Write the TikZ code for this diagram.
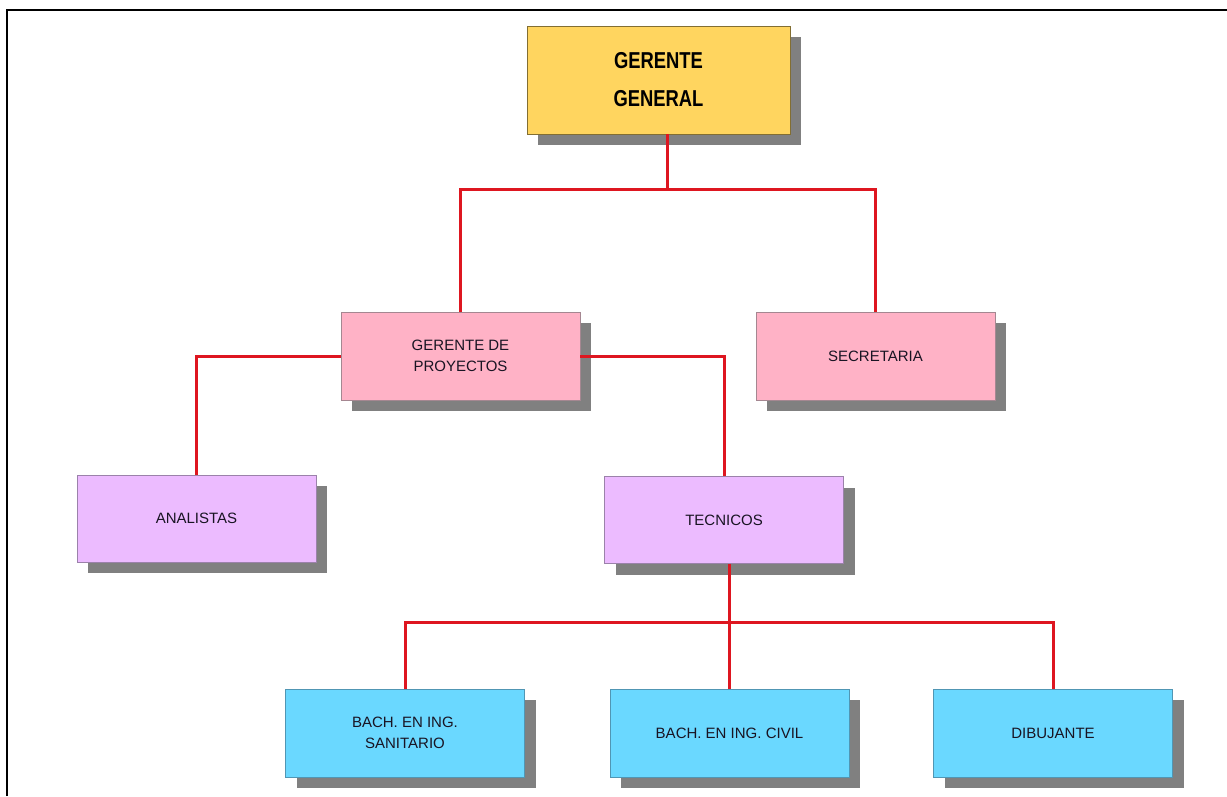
\documentclass[tikz,border=0pt]{standalone}
\usepackage{fontspec}
\setmainfont{Liberation Sans}
\newfontfamily\ggfont{Liberation Sans}[FakeStretch=0.8]
\usetikzlibrary{shadows,calc}
\definecolor{ggyellow}{RGB}{255,213,95}
\definecolor{ggborder}{RGB}{130,110,50}
\definecolor{pinkfill}{RGB}{255,178,198}
\definecolor{pinkborder}{RGB}{165,135,145}
\definecolor{lilacfill}{RGB}{236,187,255}
\definecolor{lilacborder}{RGB}{155,130,170}
\definecolor{cyanfill}{RGB}{106,216,255}
\definecolor{cyanborder}{RGB}{80,150,180}
\definecolor{shadowgray}{RGB}{128,128,128}
\definecolor{linered}{RGB}{222,22,32}
\definecolor{txt}{RGB}{25,20,35}
\tikzset{
  box/.style={rectangle, minimum width=239pt, minimum height=88pt, inner sep=0pt,
    align=center, text=txt, font=\fontsize{15}{21}\selectfont, line width=0.8pt,
    drop shadow={shadow xshift=11pt, shadow yshift=-11pt, fill=shadowgray, opacity=1}},
  topbox/.style={box, fill=ggyellow, draw=ggborder, minimum width=263pt, minimum height=108pt,
    font=\ggfont\bfseries\fontsize{23}{38}\selectfont, text=black},
  pinkbox/.style={box, fill=pinkfill, draw=pinkborder},
  lilacbox/.style={box, fill=lilacfill, draw=lilacborder},
  cyanbox/.style={box, fill=cyanfill, draw=cyanborder},
  conn/.style={draw=linered, line width=3pt},
  frame/.style={draw=black, line width=2pt}
}
\begin{document}
\begin{tikzpicture}[x=1pt,y=-1pt]
\useasboundingbox (0,0) rectangle (1227,796);
\fill[white] (0,0) rectangle (1227,796);
\coordinate (fa) at (7,796);
\coordinate (fb) at (7,10);
\coordinate (fc) at (1227,10);
\draw[frame] (fa) -- (fb) -- (fc);

\node[topbox] (gg) at (658.5,80) {GERENTE\\GENERAL};
\node[pinkbox] (gdp) at (460.5,356) {GERENTE DE\\PROYECTOS};
\node[pinkbox] (sec) at (875.5,356) {SECRETARIA};
\node[lilacbox, minimum height=87pt] (ana) at (196.5,518.5) {ANALISTAS};
\node[lilacbox, minimum height=87pt] (tec) at (724,520) {TECNICOS};
\node[cyanbox] (bs) at (405,733) {BACH. EN ING.\\SANITARIO};
\node[cyanbox] (bc) at (729.5,733) {BACH. EN ING. CIVIL};
\node[cyanbox] (bd) at (1053,733) {DIBUJANTE};

\coordinate (j1) at (667,189);
\coordinate (j2) at (729,622);
\draw[conn] (gg.south -| j1) -- (j1);
\draw[conn] (j1) -| (gdp.north);
\draw[conn] (j1) -| (sec.north);
\draw[conn] (gdp.west) -| (ana.north);
\draw[conn] (gdp.east) -| (tec.north);
\draw[conn] (tec.south -| j2) -- (j2);
\draw[conn] (j2) -| (bs.north);
\draw[conn] (j2) -- (bc.north -| j2);
\draw[conn] (j2) -| (bd.north);
\end{tikzpicture}
\end{document}
